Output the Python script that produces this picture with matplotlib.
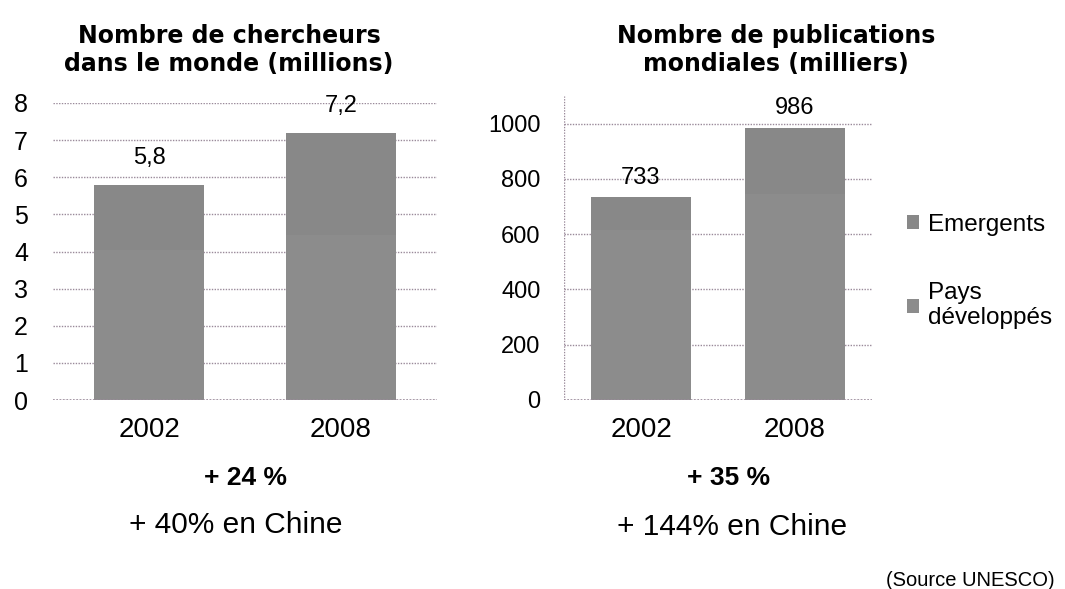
import matplotlib.pyplot as plt
import numpy as np

plt.rcParams['font.family'] = ['Liberation Sans', 'DejaVu Sans']

years = ['2002', '2008']
# chercheurs (millions)
cherch_dev = [4.05, 4.45]
cherch_emer = [1.75, 2.75]
cherch_tot = ['5,8', '7,2']
# publications (milliers)
pub_dev = [616, 745]
pub_emer = [117, 241]
pub_tot = ['733', '986']

col_dev = '#8c8c8c'
col_emer = '#888888'
grid_col = '#9a8a9a'

W, H = 1065, 589
fig = plt.figure(figsize=(W / 100, H / 100), dpi=100)


def ax_box(x0, y_top, x1, y_bot):
    return [x0 / W, (H - y_bot) / H, (x1 - x0) / W, (y_bot - y_top) / H]


def style(ax, pad, ysize):
    for s in ['top', 'right', 'left', 'bottom']:
        ax.spines[s].set_visible(False)
    ax.yaxis.grid(True, linestyle=(0, (1, 1)), color=grid_col, linewidth=1)
    ax.set_axisbelow(True)
    ax.tick_params(axis='y', length=0, pad=pad, labelsize=ysize)
    ax.tick_params(axis='x', length=0, pad=12, labelsize=20)


x = np.arange(len(years))

# left chart
ax1 = fig.add_axes(ax_box(53, 103, 437, 400))
ax1.bar(x, cherch_dev, 0.57, color=col_dev, label='Pays\ndéveloppés')
ax1.bar(x, cherch_emer, 0.57, bottom=cherch_dev, color=col_emer, label='Emergents')
ax1.set_xlim(-0.5, 1.5)
ax1.set_ylim(0, 8)
ax1.set_yticks(range(0, 9))
ax1.set_xticks(x)
ax1.set_xticklabels(years)
style(ax1, 18, 18)
ax1.axhline(0, color=grid_col, linestyle=(0, (1, 1)), linewidth=1.2)
for i in range(len(years)):
    top = cherch_dev[i] + cherch_emer[i]
    ax1.annotate(cherch_tot[i], (x[i], top), xytext=(0, 11), textcoords='offset points',
                 ha='center', va='bottom', fontsize=17)

# right chart
ax2 = fig.add_axes(ax_box(564, 96, 872, 400))
ax2.bar(x, pub_dev, 0.65, color=col_dev, label='Pays\ndéveloppés')
ax2.bar(x, pub_emer, 0.65, bottom=pub_dev, color=col_emer, label='Emergents')
ax2.set_xlim(-0.5, 1.5)
ax2.set_ylim(0, 1100)
ax2.set_yticks(range(0, 1001, 200))
ax2.set_xticks(x)
ax2.set_xticklabels(years)
style(ax2, 17, 17)
ax2.axhline(0, color=grid_col, linestyle=(0, (1, 1)), linewidth=1.2)
ax2.axvline(-0.5, color=grid_col, linestyle=(0, (1, 1)), linewidth=1)
for i in range(len(years)):
    top = pub_dev[i] + pub_emer[i]
    ax2.annotate(pub_tot[i], (x[i], top), xytext=(0, 6), textcoords='offset points',
                 ha='center', va='bottom', fontsize=17)

handles, labels = ax2.get_legend_handles_labels()
fig.legend(handles[::-1], labels[::-1], loc='upper left', bbox_to_anchor=(885 / W, 1 - 192 / H),
           frameon=False, fontsize=17.5, handlelength=0.5, handleheight=0.5,
           handletextpad=0.35, labelspacing=1.9)

fig.text(229 / W, 1 - 50 / H, 'Nombre de chercheurs\ndans le monde (millions)', ha='center',
         va='center', fontsize=17, fontweight='bold', linespacing=1.2, family='DejaVu Sans')
fig.text(776 / W, 1 - 50 / H, 'Nombre de publications\nmondiales (milliers)', ha='center',
         va='center', fontsize=17, fontweight='bold', linespacing=1.2, family='DejaVu Sans')

fig.text(246 / W, 1 - 478 / H, '+ 24 %', ha='center', va='center', fontsize=19, fontweight='bold')
fig.text(729 / W, 1 - 478 / H, '+ 35 %', ha='center', va='center', fontsize=19, fontweight='bold')
fig.text(236 / W, 1 - 525 / H, '+ 40% en Chine', ha='center', va='center', fontsize=21.5)
fig.text(732 / W, 1 - 527 / H, '+ 144% en Chine', ha='center', va='center', fontsize=21.5)
fig.text(1055 / W, 1 - 580 / H, '(Source UNESCO)', ha='right', va='center', fontsize=14.5)

fig.savefig('out.png', dpi=100)
